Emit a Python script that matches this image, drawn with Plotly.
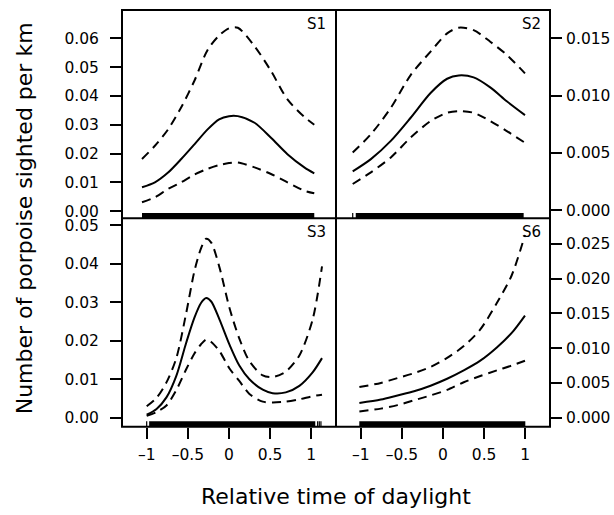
import plotly.graph_objects as go

# ---- Fitted sightings per km (solid) with confidence bounds (dashed) ----
s1_x = [-1.057, -0.90, -0.74, -0.58, -0.42, -0.26, -0.12, 0.0, 0.107, 0.31, 0.51, 0.71, 0.915, 1.036]
s1_fit = [0.0083, 0.0100, 0.0134, 0.0181, 0.0232, 0.0284, 0.0319, 0.0330, 0.0330, 0.0307, 0.0255, 0.0198, 0.0152, 0.0131]
s1_upper = [0.0181, 0.0227, 0.0284, 0.0361, 0.0453, 0.0560, 0.0610, 0.0635, 0.0637, 0.0573, 0.0487, 0.0388, 0.0327, 0.0300]
s1_lower = [0.0031, 0.0048, 0.0077, 0.0100, 0.0127, 0.0147, 0.0160, 0.0167, 0.0169, 0.0152, 0.0129, 0.0100, 0.0071, 0.0062]

s2_x = [-1.097, -0.876, -0.634, -0.393, -0.151, 0.05, 0.191, 0.372, 0.574, 0.775, 0.996]
s2_fit = [0.0034, 0.00447, 0.00606, 0.00808, 0.01024, 0.01148, 0.01177, 0.0116, 0.01073, 0.00952, 0.00831]
s2_upper = [0.00505, 0.00664, 0.00894, 0.0118, 0.01385, 0.01544, 0.01593, 0.01572, 0.01471, 0.01356, 0.01195]
s2_lower = [0.0023, 0.00332, 0.00462, 0.00635, 0.00779, 0.00851, 0.00866, 0.00851, 0.00779, 0.00692, 0.0059]

s3_x = [-1.0, -0.88, -0.76, -0.64, -0.52, -0.42, -0.34, -0.277, -0.216, -0.115, 0.006, 0.127, 0.248, 0.41, 0.53, 0.69, 0.855, 1.016, 1.13]
s3_fit = [0.0008, 0.0023, 0.0053, 0.0109, 0.0195, 0.0260, 0.0298, 0.0311, 0.0302, 0.0255, 0.0190, 0.0135, 0.0100, 0.0073, 0.0064, 0.0066, 0.0083, 0.0118, 0.0155]
s3_upper = [0.0030, 0.0052, 0.0092, 0.0155, 0.0272, 0.0381, 0.0440, 0.0465, 0.0455, 0.0390, 0.0285, 0.0205, 0.0147, 0.0110, 0.0106, 0.0120, 0.0162, 0.0255, 0.0393]
s3_lower = [0.0005, 0.0015, 0.0032, 0.0072, 0.0126, 0.0167, 0.0191, 0.0203, 0.0197, 0.0173, 0.0128, 0.0095, 0.0062, 0.0042, 0.0040, 0.0042, 0.0048, 0.0056, 0.0060]

s6_x = [-1.016, -0.755, -0.553, -0.352, -0.151, 0.05, 0.252, 0.453, 0.654, 0.835, 0.996]
s6_fit = [0.0021, 0.0026, 0.0032, 0.0038, 0.0046, 0.0056, 0.0068, 0.0082, 0.0101, 0.0122, 0.0147]
s6_upper = [0.0044, 0.0050, 0.0057, 0.0064, 0.0073, 0.0086, 0.0103, 0.0127, 0.0165, 0.0205, 0.0263]
s6_lower = [0.0009, 0.0013, 0.0018, 0.0025, 0.0032, 0.0040, 0.0051, 0.0060, 0.0068, 0.0075, 0.0082]

# ---- Observation rugs: dense spans and isolated observation times ----
s1_rug_span = [-1.057, 1.036]
s1_rug_ticks = []
s2_rug_span = [-1.06, 0.98]
s2_rug_ticks = [-1.097]
s3_rug_span = [-0.97, 1.048]
s3_rug_ticks = [-1.0, 1.077, 1.097, 1.117]
s6_rug_span = [-1.017, 1.0]
s6_rug_ticks = []

# ---- Axes ----
panel_names = ["S1", "S2", "S3", "S6"]
x_ticks = [-1, -0.5, 0, 0.5, 1]
x_tick_text = ["\u20131", "\u20130.5", "0", "0.5", "1"]
s1_yticks = [0.00, 0.01, 0.02, 0.03, 0.04, 0.05, 0.06]
s2_yticks = [0.000, 0.005, 0.010, 0.015]
s3_yticks = [0.00, 0.01, 0.02, 0.03, 0.04, 0.05]
s6_yticks = [0.000, 0.005, 0.010, 0.015, 0.020, 0.025]

FONT = "DejaVu Sans"
W, H = 614, 515
xl, xm, xr = 122 / W, 336 / W, 550 / W
yb, ym, yt = 1 - 428 / H, 1 - 218 / H, 1 - 8 / H

panels = [
    (s1_x, s1_fit, s1_upper, s1_lower, "x", "y"),
    (s2_x, s2_fit, s2_upper, s2_lower, "x2", "y2"),
    (s3_x, s3_fit, s3_upper, s3_lower, "x3", "y3"),
    (s6_x, s6_fit, s6_upper, s6_lower, "x4", "y4"),
]

fig = go.Figure()
for xs, fit, up, lo, xa, ya in panels:
    for ys, dash in ((up, "9px,6px"), (fit, "solid"), (lo, "9px,6px")):
        fig.add_trace(go.Scatter(
            x=xs, y=ys, xaxis=xa, yaxis=ya, mode="lines",
            line=dict(color="black", width=2, dash=dash, shape="spline", smoothing=0.8),
            hoverinfo="skip", showlegend=False,
        ))

shapes = []
rugs = [
    (s1_rug_span, s1_rug_ticks, "x", "y"),
    (s2_rug_span, s2_rug_ticks, "x2", "y2"),
    (s3_rug_span, s3_rug_ticks, "x3", "y3"),
    (s6_rug_span, s6_rug_ticks, "x4", "y4"),
]
for span, ticks, xa, ya in rugs:
    shapes.append(dict(type="rect", xref=xa, yref=ya + " domain",
                       x0=span[0], x1=span[1], y0=0, y1=0.026,
                       fillcolor="black", line=dict(width=0), layer="below"))
    for t in ticks:
        shapes.append(dict(type="line", xref=xa, yref=ya + " domain",
                           x0=t, x1=t, y0=0, y1=0.026,
                           line=dict(color="black", width=1.2), layer="below"))

# One shared frame around the 2x2 block, with single dividing lines
border = dict(color="black", width=2)
shapes += [
    dict(type="rect", xref="paper", yref="paper", x0=xl, x1=xr, y0=yb, y1=yt, line=border),
    dict(type="line", xref="paper", yref="paper", x0=xm, x1=xm, y0=yb, y1=yt, line=border),
    dict(type="line", xref="paper", yref="paper", x0=xl, x1=xr, y0=ym, y1=ym, line=border),
]

frame = dict(showline=False, showgrid=False, zeroline=False)
tickfont = dict(family=FONT, size=15.5, color="black")


def xaxis(domain, anchor, labels):
    ax = dict(domain=domain, anchor=anchor, range=[-1.3, 1.3], **frame)
    if labels:
        ax.update(ticks="outside", ticklen=11, tickwidth=1.5, tickcolor="black",
                  tickvals=x_ticks, ticktext=x_tick_text, tickfont=tickfont,
                  ticklabelstandoff=3)
    else:
        ax.update(ticks="", showticklabels=False)
    return ax


def yaxis(domain, anchor, side, rng, tickvals, fmt):
    return dict(domain=domain, anchor=anchor, side=side, range=rng,
                tickvals=tickvals, tickformat=fmt, ticks="outside", ticklen=11,
                tickwidth=1.5, tickcolor="black", tickfont=tickfont,
                ticklabelstandoff=8 if side == "left" else 1, **frame)


annotations = [
    dict(text="Relative time of daylight", xref="paper", yref="paper",
         x=xm, y=1 - 498 / H, xanchor="center", yanchor="middle", showarrow=False,
         font=dict(family=FONT, size=22, color="black")),
    dict(text="Number of porpoise sighted per km", xref="paper", yref="paper",
         x=24 / W, y=ym, xanchor="center", yanchor="middle", textangle=-90,
         showarrow=False, font=dict(family=FONT, size=22, color="black")),
]
label_pos = [(328, 11), (543, 11), (328, 221), (543, 221)]
for name, (px, py) in zip(panel_names, label_pos):
    annotations.append(dict(text=name, xref="paper", yref="paper", x=px / W, y=1 - py / H,
                            xanchor="right", yanchor="top", showarrow=False,
                            font=dict(family=FONT, size=15, color="black")))

fig.update_layout(
    width=W, height=H, margin=dict(l=0, r=0, t=0, b=0),
    paper_bgcolor="white", plot_bgcolor="white", showlegend=False,
    xaxis=xaxis([xl, xm], "y", False),
    xaxis2=xaxis([xm, xr], "y2", False),
    xaxis3=xaxis([xl, xm], "y3", True),
    xaxis4=xaxis([xm, xr], "y4", True),
    yaxis=yaxis([ym, yt], "x", "left", [-0.0025, 0.0699], s1_yticks, ".2f"),
    yaxis2=yaxis([ym, yt], "x2", "right", [-0.00069, 0.01748], s2_yticks, ".3f"),
    yaxis3=yaxis([yb, ym], "x3", "left", [-0.0023, 0.0518], s3_yticks, ".2f"),
    yaxis4=yaxis([yb, ym], "x4", "right", [-0.0013, 0.0287], s6_yticks, ".3f"),
    shapes=shapes, annotations=annotations,
)

fig.write_html("out.html")
